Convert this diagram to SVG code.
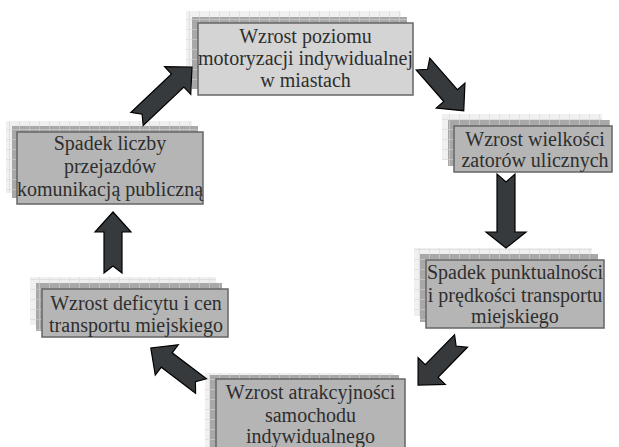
<svg xmlns="http://www.w3.org/2000/svg" width="619" height="447" viewBox="0 0 619 447">
<defs>
<pattern id="gridL" width="10" height="10" patternUnits="userSpaceOnUse"><rect width="10" height="10" fill="#f0f0f0"/><path d="M9.5,0V10M0,9.5H10" stroke="#e0e0e0" stroke-width="1" fill="none"/></pattern>
<pattern id="gridD" width="10" height="10" patternUnits="userSpaceOnUse"><rect width="10" height="10" fill="#a8a8a8"/><path d="M9.5,0V10M0,9.5H10" stroke="#c2c2c2" stroke-width="1" fill="none"/></pattern>
</defs>
<style>
.back{fill:url(#gridL);}
.mid{fill:url(#gridD);}
.front{fill:#b5b5b5;stroke:#666;stroke-width:1.5;}
.front1{fill:#d4d4d4;stroke:#666;stroke-width:1.5;}
text{font-family:"Liberation Serif","Times New Roman",serif;font-size:20px;fill:#2e2e2e;text-anchor:middle;}
.arr{fill:#363a3d;stroke:#000;stroke-width:1.2;stroke-linejoin:miter;}
</style>
<rect width="619" height="447" fill="#fff"/>

<g id="n1">
<rect class="back" x="186" y="11" width="215" height="72"/>
<rect class="mid" x="192" y="17" width="215" height="72"/>
<rect class="front1" x="198" y="23" width="215" height="72"/>
<text x="305.5" y="43">Wzrost poziomu</text>
<text x="305.5" y="65">motoryzacji indywidualnej</text>
<text x="305.5" y="87">w miastach</text>
</g>

<g id="n2">
<rect class="back" x="442" y="114" width="160" height="46"/>
<rect class="mid" x="448" y="120" width="162" height="46"/>
<rect class="front" x="454" y="126" width="158" height="46"/>
<text x="535" y="146">Wzrost wielkości</text>
<text x="535" y="167">zatorów ulicznych</text>
</g>

<g id="n3">
<rect class="back" x="414" y="248" width="178" height="68"/>
<rect class="mid" x="420" y="254" width="178" height="68"/>
<rect class="front" x="426" y="260" width="178" height="68"/>
<text x="515" y="279">Spadek punktualności</text>
<text x="515" y="302">i prędkości transportu</text>
<text x="515" y="323">miejskiego</text>
</g>

<g id="n4">
<rect class="back" x="205" y="373" width="189" height="76"/>
<rect class="mid" x="210" y="375" width="189" height="76"/>
<rect class="front" x="216" y="379" width="189" height="76"/>
<text x="310.5" y="399">Wzrost atrakcyjności</text>
<text x="310.5" y="422">samochodu</text>
<text x="310.5" y="443">indywidualnego</text>
</g>

<g id="n5">
<rect class="back" x="30" y="277" width="186" height="48"/>
<rect class="mid" x="36" y="283" width="186" height="48"/>
<rect class="front" x="42" y="289" width="186" height="48"/>
<text x="136" y="310">Wzrost deficytu i cen</text>
<text x="136" y="332">transportu miejskiego</text>
</g>

<g id="n6">
<rect class="back" x="6" y="121" width="186" height="72"/>
<rect class="mid" x="12" y="126" width="186" height="72"/>
<rect class="front" x="17" y="132" width="186" height="72"/>
<text x="110" y="150">Spadek liczby</text>
<text x="110" y="173">przejazdów</text>
<text x="110" y="196">komunikacją publiczną</text>
</g>

<g id="connectors">
<path class="arr" transform="translate(423,64) rotate(48.9)" d="M0,-9 L42,-9 L42,-19 L62,0 L42,19 L42,9 L0,9 L7,0 Z"/>
<path class="arr" transform="translate(506,174) rotate(90)" d="M0,-9 L58,-9 L58,-20 L74,0 L58,20 L58,9 L0,9 L8,0 Z"/>
<path class="arr" transform="translate(461,341) rotate(134.3)" d="M0,-9 L42,-9 L42,-19 L61.5,0 L42,19 L42,9 L0,9 L7,0 Z"/>
<path class="arr" transform="translate(201,386) rotate(217.2)" d="M0,-9 L43,-9 L43,-19 L63,0 L43,19 L43,9 L0,9 L7,0 Z"/>
<path class="arr" transform="translate(113,273) rotate(-90)" d="M0,-9 L41,-9 L41,-18 L61,0 L41,18 L41,9 L0,9 L7,0 Z"/>
<path class="arr" transform="translate(137,119) rotate(-43.4)" d="M0,-9 L56,-9 L56,-19 L75.7,0 L56,19 L56,9 L0,9 L7,0 Z"/>
</g>
</svg>
